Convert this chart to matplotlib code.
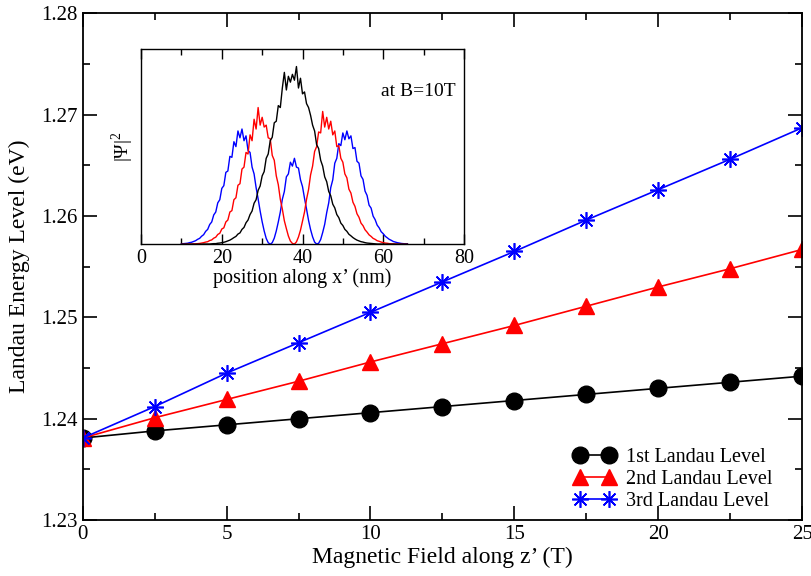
import numpy as np
import matplotlib
matplotlib.use("Agg")
import matplotlib.pyplot as plt
from matplotlib.ticker import MultipleLocator

plt.rcParams['font.family'] = ['Liberation Serif', 'DejaVu Serif']
plt.rcParams['mathtext.fontset'] = 'custom'
plt.rcParams['mathtext.rm'] = 'Liberation Serif'

# main chart: Landau levels vs magnetic field
field = [0, 2.5, 5, 7.5, 10, 12.5, 15, 17.5, 20, 22.5, 25]
level1 = [1.2381, 1.2388, 1.2394, 1.2400, 1.2406, 1.2412, 1.2418, 1.2424, 1.2430, 1.2436, 1.2442]
level2 = [1.2381, 1.2401, 1.2419, 1.2437, 1.2456, 1.2474, 1.2492, 1.2511, 1.2530, 1.2548, 1.2567]
level3 = [1.2381, 1.2412, 1.2445, 1.2475, 1.2505, 1.2535, 1.2565, 1.2596, 1.2626, 1.2656, 1.2687]
labels = ['1st Landau Level', '2nd Landau Level', '3rd Landau Level']

# inset: |psi|^2 at B=10T, sampled every 0.5 nm from 10 to 66 nm
pos = np.arange(10, 66.5, 0.5)
psi1 = [0.000, 0.000, 0.000, 0.000, 0.000, 0.000, 0.000, 0.000, 0.000, 0.000,
        0.000, 0.001, 0.001, 0.001, 0.001, 0.002, 0.003, 0.003, 0.005, 0.006,
        0.008, 0.010, 0.013, 0.017, 0.021, 0.027, 0.034, 0.040, 0.052, 0.058,
        0.076, 0.086, 0.110, 0.124, 0.152, 0.170, 0.210, 0.228, 0.276, 0.298,
        0.350, 0.372, 0.440, 0.462, 0.530, 0.548, 0.622, 0.630, 0.710, 0.700,
        0.800, 0.880, 0.790, 0.860, 0.830, 0.870, 0.840, 0.910, 0.800, 0.850,
        0.770, 0.780, 0.720, 0.700, 0.660, 0.610, 0.580, 0.510, 0.490, 0.430,
        0.400, 0.345, 0.320, 0.270, 0.248, 0.205, 0.186, 0.152, 0.136, 0.108,
        0.096, 0.076, 0.066, 0.051, 0.043, 0.034, 0.027, 0.021, 0.017, 0.013,
        0.011, 0.008, 0.006, 0.005, 0.004, 0.003, 0.002, 0.001, 0.001, 0.001,
        0.001, 0.000, 0.000, 0.000, 0.000, 0.000, 0.000, 0.000, 0.000, 0.000,
        0.000, 0.000, 0.000]
psi2 = [0.000, 0.000, 0.000, 0.001, 0.001, 0.001, 0.002, 0.002, 0.003, 0.004,
        0.006, 0.008, 0.011, 0.013, 0.019, 0.022, 0.031, 0.036, 0.050, 0.056,
        0.078, 0.084, 0.114, 0.124, 0.165, 0.172, 0.228, 0.238, 0.302, 0.310,
        0.385, 0.395, 0.470, 0.462, 0.560, 0.530, 0.640, 0.590, 0.700, 0.610,
        0.650, 0.600, 0.610, 0.545, 0.540, 0.455, 0.430, 0.350, 0.305, 0.230,
        0.180, 0.120, 0.080, 0.042, 0.016, 0.004, 0.001, 0.012, 0.037, 0.072,
        0.118, 0.165, 0.230, 0.280, 0.355, 0.400, 0.475, 0.500, 0.575, 0.570,
        0.680, 0.600, 0.650, 0.590, 0.630, 0.560, 0.580, 0.500, 0.505, 0.440,
        0.420, 0.360, 0.340, 0.282, 0.262, 0.215, 0.194, 0.156, 0.138, 0.108,
        0.095, 0.074, 0.062, 0.048, 0.040, 0.030, 0.025, 0.018, 0.015, 0.011,
        0.008, 0.006, 0.005, 0.003, 0.002, 0.002, 0.001, 0.001, 0.001, 0.000,
        0.000, 0.000, 0.000]
psi3 = [0.002, 0.003, 0.004, 0.005, 0.008, 0.010, 0.014, 0.018, 0.025, 0.030,
        0.041, 0.049, 0.066, 0.076, 0.101, 0.114, 0.150, 0.165, 0.212, 0.228,
        0.286, 0.300, 0.368, 0.375, 0.450, 0.445, 0.525, 0.500, 0.580, 0.545,
        0.590, 0.530, 0.555, 0.480, 0.470, 0.395, 0.360, 0.290, 0.232, 0.170,
        0.115, 0.068, 0.030, 0.008, 0.000, 0.008, 0.031, 0.068, 0.114, 0.165,
        0.230, 0.270, 0.345, 0.360, 0.420, 0.400, 0.440, 0.395, 0.390, 0.330,
        0.295, 0.235, 0.180, 0.122, 0.075, 0.038, 0.011, 0.001, 0.005, 0.024,
        0.060, 0.102, 0.162, 0.212, 0.290, 0.330, 0.415, 0.440, 0.515, 0.505,
        0.570, 0.535, 0.580, 0.540, 0.555, 0.490, 0.495, 0.425, 0.415, 0.350,
        0.332, 0.272, 0.250, 0.200, 0.185, 0.144, 0.126, 0.098, 0.084, 0.064,
        0.054, 0.041, 0.033, 0.025, 0.020, 0.014, 0.011, 0.008, 0.006, 0.004,
        0.003, 0.002, 0.002]

fig = plt.figure(figsize=(8.11, 5.76), dpi=100)
ax = fig.add_axes([0.102, 0.097, 0.887, 0.880])

ax.plot(field, level1, color='black', lw=1.2, marker='o', ms=12, label=labels[0])
ax.plot(field, level2, color='red', lw=1.2, marker='^', ms=12, label=labels[1])
ax.plot(field, level3, color='blue', lw=1.2, marker=(8, 2, 0), ms=12, mew=1.2, label=labels[2])

ax.set_xlim(0, 25)
ax.set_ylim(1.23, 1.28)
ax.xaxis.set_major_locator(MultipleLocator(5))
ax.xaxis.set_minor_locator(MultipleLocator(2.5))
ax.yaxis.set_major_locator(MultipleLocator(0.01))
ax.yaxis.set_minor_locator(MultipleLocator(0.005))
ax.yaxis.set_major_formatter(matplotlib.ticker.FormatStrFormatter('%.2f'))
ax.tick_params(which='both', direction='in', top=True, right=True, labelsize=15, width=1.2)
ax.tick_params(which='major', length=10)
ax.tick_params(which='minor', length=5)
for s in ax.spines.values():
    s.set_linewidth(1.3)
ax.set_xlabel('Magnetic Field along z’ (T)', fontsize=17, labelpad=2)
ax.set_ylabel('Landau Energy Level (eV)', fontsize=17, labelpad=8)

ax.legend(loc='lower left', bbox_to_anchor=(0.658, -0.018), frameon=False, fontsize=14.5,
          numpoints=2, handlelength=2.05, handletextpad=0.5, labelspacing=0.15)

# inset
ins = fig.add_axes([0.174, 0.576, 0.398, 0.339])
ins.plot(pos, psi3, color='blue', lw=1.0)
ins.plot(pos, psi2, color='red', lw=1.0)
ins.plot(pos, psi1, color='black', lw=1.0)
ins.set_xlim(0, 80)
ins.set_ylim(0, 1.0)
ins.xaxis.set_major_locator(MultipleLocator(20))
ins.xaxis.set_minor_locator(MultipleLocator(10))
ins.set_yticks([])
ins.tick_params(which='both', direction='in', top=True, labelsize=14.5, width=1.0)
ins.tick_params(which='major', length=7)
ins.tick_params(which='minor', length=4)
for s in ins.spines.values():
    s.set_linewidth(1.0)
ins.set_xlabel('position along x’ (nm)', fontsize=14.5, labelpad=0)
ins.set_ylabel('|Ψ|$^2$', fontsize=14, labelpad=4)
ins.text(0.975, 0.78, 'at B=10T', transform=ins.transAxes, ha='right', va='center', fontsize=14)

fig.savefig('out.png', dpi=100)
